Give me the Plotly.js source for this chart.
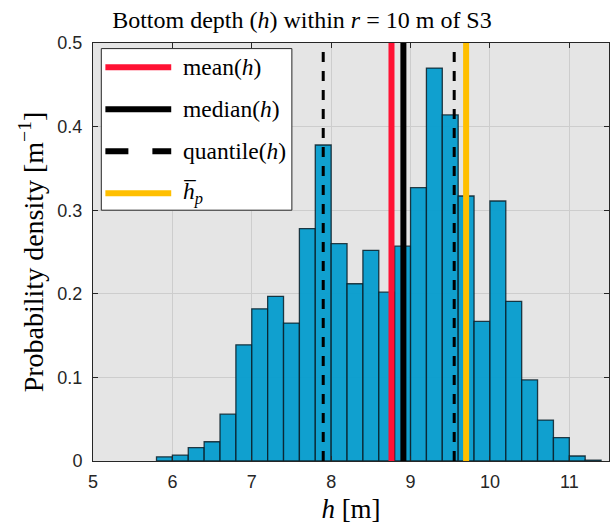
<!DOCTYPE html>
<html>
<head>
<meta charset="utf-8">
<script src="https://cdn.plot.ly/plotly-3.0.1.min.js"></script>
<style>html,body{margin:0;padding:0;background:#fff;}#chart{width:610px;height:526px;}</style>
</head>
<body>
<div id="chart"></div>
<script>
// Histogram bins (left edges, width 0.2 m) and probability density
var binLeft = [5.8, 6.0, 6.2, 6.4, 6.6, 6.8, 7.0, 7.2, 7.4, 7.6, 7.8, 8.0, 8.2, 8.4, 8.6, 8.8,
               9.0, 9.2, 9.4, 9.6, 9.8, 10.0, 10.2, 10.4, 10.6, 10.8, 11.0, 11.2];
var binWidth = 0.2;
var density = [0.005, 0.007, 0.016, 0.023, 0.056, 0.139, 0.182, 0.197, 0.165, 0.278, 0.378, 0.260,
               0.212, 0.252, 0.202, 0.257, 0.327, 0.470, 0.414, 0.317, 0.167, 0.311, 0.191, 0.097,
               0.049, 0.028, 0.006, 0.001];

// Statistics (vertical lines)
var meanH = 8.76;
var medianH = 8.91;
var quantileH = [7.90, 9.55];
var hBarP = 9.70;

var xTicks = [5, 6, 7, 8, 9, 10, 11];
var yTicks = [0, 0.1, 0.2, 0.3, 0.4, 0.5];
var yTickText = ['0', '0.1', '0.2', '0.3', '0.4', '0.5'];
var xRange = [5, 11.5];
var yRange = [0, 0.5];

var serif = "Liberation Serif, DejaVu Serif, serif";
var sans = "Liberation Sans, Arial, sans-serif";

var traces = [];
traces.push({
  type: 'bar', x: binLeft, y: density, offset: 0, width: binWidth,
  marker: {color: 'rgba(0,155,206,0.93)', line: {color: 'rgba(10,30,40,0.85)', width: 1.3}},
  showlegend: false, hoverinfo: 'x+y'
});
function vline(xv, color, width, dash) {
  return {type: 'scatter', mode: 'lines', x: [xv, xv], y: [yRange[0], yRange[1]],
          line: {color: color, width: width, dash: dash || 'solid'}, showlegend: false};
}
traces.push(vline(meanH, '#ff1234', 6));
traces.push(vline(medianH, '#000000', 6));
quantileH.forEach(function(q){ traces.push(vline(q, '#000000', 3, '10px,9px')); });
traces.push(vline(hBarP, '#ffbf00', 6));

// Manual legend (paper coordinates)
var legItems = [
  {label: 'mean(<i>h</i>)', color: '#ff1234', dash: 'solid'},
  {label: 'median(<i>h</i>)', color: '#000000', dash: 'solid'},
  {label: 'quantile(<i>h</i>)', color: '#000000', dash: '23px,24px'},
  {label: '<i>h\u0305</i><sub><i>p</i></sub>', color: '#ffbf00', dash: 'solid'}
];
var legY = [0.9419, 0.8415, 0.7411, 0.6407];
var shapes = [{type: 'rect', xref: 'paper', yref: 'paper', x0: 0.0161, x1: 0.3854, y0: 0.600, y1: 0.9866,
               fillcolor: '#ffffff', line: {color: '#262626', width: 1}, layer: 'above'}];
var annotations = [];
legItems.forEach(function(it, i){
  shapes.push({type: 'line', xref: 'paper', yref: 'paper', x0: 0.0240, x1: 0.1516, y0: legY[i], y1: legY[i],
               line: {color: it.color, width: 6, dash: it.dash}, layer: 'above'});
  annotations.push({xref: 'paper', yref: 'paper', x: 0.1700, y: legY[i], xanchor: 'left', yanchor: 'middle',
                    text: it.label, showarrow: false, font: {family: serif, size: 23.5, color: '#000'}});
});

var layout = {
  width: 610, height: 526,
  margin: {l: 93, r: 1, t: 43, b: 65, pad: 0},
  paper_bgcolor: '#ffffff', plot_bgcolor: '#e5e5e5',
  showlegend: false,
  bargap: 0,
  title: {text: 'Bottom depth (<i>h</i>) within <i>r</i> = 10 m of S3', x: 0.495, xanchor: 'center',
          y: 0.962, yanchor: 'middle', font: {family: serif, size: 24, color: '#000'}},
  xaxis: {range: xRange, tickvals: xTicks, ticktext: xTicks.map(String), showgrid: true, gridcolor: '#cdcdcd',
          gridwidth: 1, zeroline: false, showline: true, linecolor: '#262626', linewidth: 1, mirror: 'ticks',
          ticks: 'inside', ticklen: 5, tickcolor: '#262626', tickfont: {family: sans, size: 18, color: '#262626'},
          ticklabelstandoff: 4,
          title: {text: '<i>h</i> [m]', font: {family: serif, size: 27, color: '#000'}, standoff: 8}},
  yaxis: {range: yRange, tickvals: yTicks, ticktext: yTickText, showgrid: true,
          gridcolor: '#cdcdcd', gridwidth: 1, zeroline: false, showline: true, linecolor: '#262626', linewidth: 1,
          mirror: 'ticks', ticks: 'inside', ticklen: 5, tickcolor: '#262626',
          tickfont: {family: sans, size: 18, color: '#262626'}, ticklabelstandoff: 6,
          title: {text: 'Probability density [m<sup>\u22121</sup>]', font: {family: serif, size: 28, color: '#000'}, standoff: 5}},
  shapes: shapes,
  annotations: annotations
};

Plotly.newPlot('chart', traces, layout, {displayModeBar: false, staticPlot: true});
</script>
</body>
</html>
